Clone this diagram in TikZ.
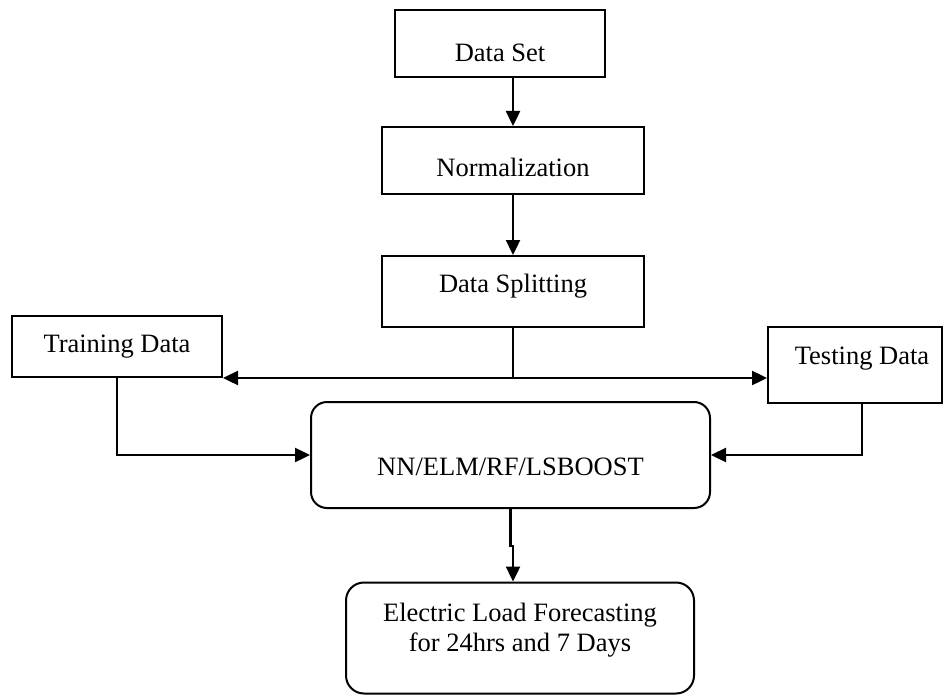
\documentclass[tikz,border=0pt]{standalone}
\usepackage{fontspec}
\setmainfont{Liberation Serif}
\usetikzlibrary{arrows.meta}
\begin{document}
\begin{tikzpicture}[x=1pt,y=-1pt,
  box/.style={draw=black, line width=2pt, inner sep=0pt,
    font=\fontsize{26.5}{30}\selectfont},
  rbox/.style={box, rounded corners=16pt},
  arr/.style={line width=2.4pt, -{Triangle[length=15pt,width=14pt]}},
  biarr/.style={line width=2.4pt, {Triangle[length=15pt,width=14pt]}-{Triangle[length=15pt,width=14pt]}},
  thin/.style={line width=1.4pt}]
\useasboundingbox (0,0) rectangle (944,695);

\node[box, minimum width=210pt, minimum height=67pt] (ds) at (500,43.5)
  {\raisebox{-18.2pt}[0pt][0pt]{Data Set}};
\node[box, minimum width=262pt, minimum height=67pt] (norm) at (513,160.5)
  {\raisebox{-16.2pt}[0pt][0pt]{Normalization}};
\node[box, minimum width=262pt, minimum height=71pt] (split) at (513,291.5)
  {\raisebox{-1.2pt}[0pt][0pt]{Data Splitting}};
\node[box, minimum width=210pt, minimum height=61pt] (train) at (117,346.5)
  {\raisebox{-6.2pt}[0pt][0pt]{Training Data}};
\node[box, minimum width=174pt, minimum height=76pt] (test) at (855,365)
  {\raisebox{1pt}[0pt][0pt]{\hspace*{14pt}Testing Data}};
\node[rbox, minimum width=399pt, minimum height=106pt] (nn) at (510.5,455)
  {\raisebox{-20pt}[0pt][0pt]{NN/ELM/RF/LSBOOST}};
\node[rbox, rounded corners=18pt, minimum width=348pt, minimum height=111pt] (elf) at (520,638)
  {\raisebox{16.3pt}[0pt][0pt]{\begin{tabular}[t]{@{}c@{}}Electric Load Forecasting\\for 24hrs and 7 Days\end{tabular}}};

\draw[arr] (ds.south -| norm.north) -- (norm.north);
\draw[arr] (norm.south) -- (split.north);
\coordinate (jn) at ([yshift=-51pt]split.south);
\draw[thin] (split.south) -- (jn);
\draw[biarr] (train.south east) -- (train.south east -| test.west);
\draw[arr] (train.south) |- (nn.west);
\draw[arr] ([xshift=7pt]test.south) |- (nn.east);
\draw[arr] (nn.south) -- ([yshift=-37pt]nn.south) -| ([xshift=-7pt]elf.north);
\end{tikzpicture}
\end{document}
